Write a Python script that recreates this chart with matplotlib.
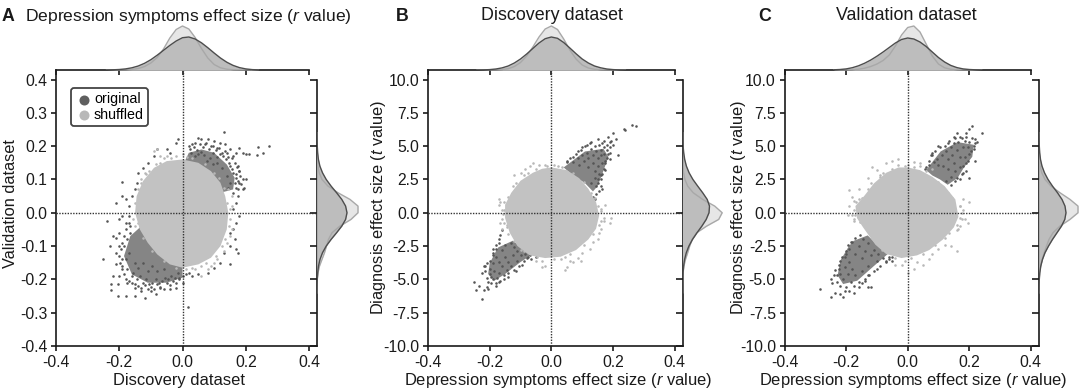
import matplotlib
matplotlib.use("Agg")
import matplotlib.pyplot as plt

plt.rcParams['font.family'] = ['Liberation Sans', 'DejaVu Sans']
plt.rcParams['mathtext.fontset'] = 'custom'
plt.rcParams['mathtext.it'] = 'Liberation Sans:italic'
plt.rcParams['mathtext.rm'] = 'Liberation Sans'
plt.rcParams['axes.unicode_minus'] = False

# -----------------------------
# Tick labels and text
# -----------------------------
r_ticks = [-0.4, -0.2, 0.0, 0.2, 0.4]
r_labels = ['-0.4', '-0.2', '0.0', '0.2', '0.4']
a_yticks = [-0.4, -0.3, -0.2, -0.1, 0.0, 0.1, 0.2, 0.3, 0.4]
a_ylabels = ['-0.4', '-0.3', '-0.2', '-0.1', '0.0', '0.1', '0.2', '0.3', '0.4']
t_ticks = [-10, -7.5, -5, -2.5, 0, 2.5, 5, 7.5, 10]
t_labels = ['-10.0', '-7.5', '-5.0', '-2.5', '0.0', '2.5', '5.0', '7.5', '10.0']

# -----------------------------
# Marginal curves
# -----------------------------
r_grid = [-0.24, -0.22, -0.20, -0.18, -0.16, -0.14, -0.12, -0.10, -0.08, -0.06, -0.04, -0.02, 0.0,
          0.02, 0.04, 0.06, 0.08, 0.10, 0.12, 0.14, 0.16, 0.18, 0.20, 0.22, 0.24]
t_grid = [-6, -5.5, -5, -4.5, -4, -3.5, -3, -2.5, -2, -1.5, -1, -0.5, 0,
          0.5, 1, 1.5, 2, 2.5, 3, 3.5, 4, 4.5, 5, 5.5, 6]

a_top_orig = [0, .2, .5, 1.1, 2.2, 4, 6.7, 10.3, 14.8, 19.7, 24.6, 29, 32.3, 33, 31, 27.2, 22.3, 17, 12, 7.8, 4.6, 2.4, 1.1, .4, .1]
a_top_shuf = [0, 0, 0, .1, .5, 1.5, 3.5, 7, 12.5, 21, 32, 40.5, 44, 41, 32.5, 21.5, 12, 5.5, 2.2, .8, .2, .1, 0, 0, 0]
a_right_orig = [0, .1, .3, .7, 1.5, 3, 5.5, 9.2, 14.1, 19.6, 24.8, 28.6, 30, 28.6, 24.8, 19.6, 14.1, 9.2, 5.5, 2.9, 1.4, .65, .27, .1, 0]
a_right_shuf = [0, 0, .2, 1, 2.5, 5, 7.5, 9.5, 11.5, 15, 23, 34, 41, 41, 33, 21, 11, 5, 2.2, .9, .3, .1, 0, 0, 0]

b_top_orig = [0, .1, .4, 1, 2.1, 4, 7, 11, 16, 21.5, 27, 31.3, 33, 31.7, 27.5, 22, 16.3, 11, 7, 4, 2.2, 1, .4, .1, 0]
b_top_shuf = [0, 0, 0, .1, .4, 1.3, 3.5, 7.5, 14, 23, 33, 41, 44, 40.5, 31, 20, 11, 5, 2, .7, .2, .1, 0, 0, 0]
b_right_orig = [0, .1, .2, .4, .9, 1.9, 3.6, 6.2, 9.8, 14.3, 19.2, 23.5, 26.3, 26.8, 24.5, 20, 15, 10.2, 6.4, 3.7, 2, 1, .4, .2, 0]
b_right_shuf = [0, 0, .1, .4, 1.2, 2.8, 5, 7, 9.5, 14, 24, 36, 39.5, 32, 20, 10.5, 5, 2.2, .9, .3, .1, 0, 0, 0, 0]

c_top_orig = [.2, .5, 1.1, 2.3, 4.2, 6.8, 10, 13.8, 18, 22.5, 27, 30.5, 32, 31, 28, 23.5, 18, 12.5, 8, 4.6, 2.4, 1.1, .5, .2, 0]
c_top_shuf = [0, 0, .1, .3, .8, 1.8, 3.5, 6, 9.5, 15, 24, 35, 42.5, 44, 38, 26, 14, 6, 2.2, .7, .2, 0, 0, 0, 0]
c_right_orig = [0, .1, .3, .8, 1.8, 3.5, 6, 9.5, 13.5, 18, 22.5, 25.8, 27, 26, 23, 18.5, 13.5, 9, 5.5, 3, 1.5, .7, .3, .1, 0]
c_right_shuf = [0, 0, .2, .5, 1.5, 3.2, 5.2, 7.5, 10, 14, 21, 31, 39, 39, 31, 21, 12, 6, 2.8, 1.1, .4, .1, 0, 0, 0]

# -----------------------------
# Outline of the dense shuffled cloud
# -----------------------------
a_cloud_x = [0.0, 0.05, 0.09, 0.12, 0.135, 0.145, 0.14, 0.12, 0.09, 0.05, 0.0, -0.04, -0.08, -0.11, -0.135, -0.15, -0.145, -0.125, -0.09, -0.05]
a_cloud_y = [0.16, 0.15, 0.125, 0.09, 0.05, 0.0, -0.05, -0.10, -0.135, -0.155, -0.165, -0.155, -0.125, -0.09, -0.05, 0.0, 0.05, 0.095, 0.135, 0.155]
b_cloud_x = [0, 0.05, 0.09, 0.12, 0.145, 0.155, 0.145, 0.12, 0.08, 0.03, -0.02, -0.07, -0.11, -0.135, -0.15, -0.15, -0.13, -0.10, -0.06, -0.03]
b_cloud_y = [3.4, 3.2, 2.6, 1.8, 0.8, -0.2, -1.2, -2.0, -2.8, -3.3, -3.4, -3.2, -2.5, -1.5, -0.4, 0.6, 1.5, 2.4, 3.0, 3.3]
c_cloud_x = [0.0, 0.04, 0.08, 0.12, 0.155, 0.165, 0.15, 0.115, 0.07, 0.03, -0.02, -0.07, -0.105, -0.145, -0.165, -0.17, -0.14, -0.11, -0.07, -0.03]
c_cloud_y = [3.4, 3.2, 2.7, 2.0, 1.0, -0.3, -1.1, -2.0, -2.8, -3.2, -3.4, -3.1, -2.4, -1.1, -0.4, 0.5, 1.3, 2.2, 3.0, 3.4]

# -----------------------------
# Outline of the dense original bands (inner side runs under the cloud)
# -----------------------------
a_band1_x = [0.02, 0.06, 0.10, 0.14, 0.165, 0.16, 0.12, 0.10, 0.07, 0.04, 0.005]
a_band1_y = [0.18, 0.19, 0.18, 0.145, 0.105, 0.07, 0.06, 0.09, 0.12, 0.14, 0.15]
a_band2_x = [-0.165, -0.185, -0.16, -0.11, -0.05, 0.0, 0.0, -0.04, -0.07, -0.10, -0.13]
a_band2_y = [-0.07, -0.13, -0.185, -0.21, -0.21, -0.195, -0.15, -0.14, -0.11, -0.08, -0.04]
b_band1_x = [0.04, 0.109, 0.169, 0.185, 0.165, 0.15, 0.135, 0.11, 0.085, 0.06]
b_band1_y = [3.4, 4.6, 4.8, 4.2, 2.9, 2.0, 1.6, 2.2, 2.6, 3.0]
b_band2_x = [-0.172, -0.125, -0.09, -0.06, -0.1, -0.15, -0.185, -0.205, -0.2, -0.18]
b_band2_y = [-2.6, -2.1, -2.7, -3.1, -3.7, -4.6, -5.1, -4.6, -3.8, -2.9]
c_band1_x = [0.06, 0.107, 0.162, 0.215, 0.21, 0.183, 0.162, 0.13, 0.105, 0.08]
c_band1_y = [3.2, 4.6, 5.3, 5.1, 4.2, 3.4, 2.6, 2.1, 2.5, 2.8]
c_band2_x = [-0.175, -0.13, -0.10, -0.065, -0.11, -0.164, -0.21, -0.228, -0.218, -0.191]
c_band2_y = [-2.1, -1.7, -2.4, -3.1, -4.0, -5.1, -5.35, -4.7, -3.55, -2.5]

# -----------------------------
# Single points around the clouds, (x, y)
# -----------------------------
a_orig = [(0.13, 0.242), (0.05, 0.225), (0.06, 0.22), (0.08, 0.22), (0.10, 0.215), (0.12, 0.21), (0.135, 0.205), (0.04, 0.21),
          (0.03, 0.205), (0.02, 0.20), (0.07, 0.205), (0.09, 0.20), (0.11, 0.195), (0.15, 0.19), (0.16, 0.17), (0.18, 0.195),
          (0.19, 0.18), (0.20, 0.175), (0.21, 0.175), (0.235, 0.173), (0.24, 0.196), (0.255, 0.178), (0.275, 0.20), (0.17, 0.18),
          (0.14, 0.18), (0.175, 0.14), (0.18, 0.125), (0.19, 0.10), (0.20, 0.10), (0.18, 0.09), (0.17, 0.075), (0.16, 0.06),
          (0.19, 0.07), (0.175, 0.05), (0.195, 0.075), (0.17, 0.03), (0.16, 0.01), (0.18, -0.01), (0.17, -0.03), (0.16, -0.05),
          (0.15, -0.06), (0.165, -0.08), (0.15, -0.10), (0.17, -0.11), (0.175, -0.12), (0.13, -0.12), (0.15, -0.155), (0.12, -0.15),
          (0.10, -0.165), (0.08, -0.18), (0.05, -0.185), (0.03, -0.19),
          (-0.015, 0.22), (-0.02, 0.21), (-0.05, 0.19), (-0.04, 0.18), (-0.08, 0.19), (-0.09, 0.17), (-0.11, 0.15), (-0.125, 0.135),
          (-0.14, 0.12), (-0.145, 0.09), (-0.15, 0.07), (-0.16, 0.05), (-0.19, 0.092), (-0.19, 0.05), (-0.18, 0.04), (-0.17, 0.02),
          (-0.21, 0.028), (-0.24, -0.024), (-0.20, -0.02), (-0.19, -0.01), (-0.18, -0.03), (-0.17, -0.01), (-0.165, -0.04), (-0.22, -0.07),
          (-0.21, -0.075), (-0.20, -0.06), (-0.23, -0.10), (-0.20, -0.10), (-0.21, -0.12), (-0.25, -0.14), (-0.21, -0.155), (-0.19, -0.14),
          (-0.22, -0.19), (-0.20, -0.19), (-0.225, -0.215), (-0.205, -0.215), (-0.225, -0.232), (-0.205, -0.25), (-0.178, -0.25), (-0.15, -0.25),
          (-0.12, -0.257), (-0.175, -0.21), (-0.15, -0.225), (-0.13, -0.235), (-0.10, -0.235), (-0.085, -0.245), (-0.07, -0.225), (-0.04, -0.23),
          (-0.02, -0.225), (0.0, -0.21), (-0.01, -0.2), (0.018, -0.284),
          (.025, .192), (.035, .198), (.045, .188), (.055, .205), (.065, .196), (.075, .208), (.085, .19), (.095, .2), (.105, .188), (.115, .195),
          (.125, .178), (.135, .185), (.145, .168), (.155, .165), (.165, .15), (.172, .138), (.178, .125), (.182, .11), (.176, .095), (.168, .115),
          (.158, .13), (.148, .15), (.138, .16), (.128, .17), (.118, .175), (.108, .168), (.098, .178), (.088, .165), (.078, .155), (.068, .172),
          (.058, .182), (.048, .175), (.038, .17), (.028, .18), (.15, .14), (.16, .12), (.17, .105), (.185, .085), (.175, .07), (.165, .09),
          (.125, .135), (.14, .11), (.11, .15), (.095, .145), (.15, .09), (.145, .075),
          (-.17, -.03), (-.18, -.05), (-.185, -.07), (-.19, -.09), (-.195, -.11), (-.2, -.13), (-.198, -.15), (-.192, -.17), (-.185, -.185), (-.178, -.2),
          (-.17, -.205), (-.16, -.21), (-.15, -.215), (-.14, -.22), (-.13, -.225), (-.12, -.218), (-.11, -.228), (-.1, -.222), (-.09, -.23), (-.08, -.215),
          (-.07, -.222), (-.06, -.228), (-.05, -.21), (-.04, -.218), (-.03, -.205), (-.02, -.212), (-.01, -.195), (.0, -.19), (.01, -.185), (.02, -.18),
          (-.185, -.1), (-.175, -.08), (-.165, -.06), (-.155, -.18), (-.145, -.2), (-.135, -.19), (-.125, -.21), (-.115, -.2), (-.105, -.215), (-.095, -.21),
          (-.085, -.2), (-.075, -.21), (-.065, -.205), (-.055, -.195), (-.045, -.2), (-.035, -.19), (-.025, -.195), (-.015, -.18), (-.17, -.12), (-.18, -.14),
          (-.19, -.16), (-.175, -.17), (-.16, -.19), (-.15, -.15), (-.14, -.165), (-.125, -.15), (-.11, -.175), (-.095, -.16), (-.08, -.175), (-.06, -.17)]
a_shuf = [(-0.08, 0.19), (-0.09, 0.185), (-0.07, 0.17), (-0.12, 0.12), (-0.13, 0.10), (-0.05, 0.17), (0.0, 0.175), (0.10, -0.15), (0.09, -0.16), (0.08, -0.17),
          (0.06, -0.19), (0.11, -0.14), (0.13, -0.115), (0.14, -0.09), (0.15, -0.07), (0.155, -0.05), (0.155, 0.02), (0.155, 0.05), (0.145, 0.07), (0.04, -0.17),
          (-.15, .03), (-.155, -.02), (-.15, -.04), (-.14, .07), (-.13, .09), (-.115, .115), (-.105, .125), (-.085, .145), (-.07, .15), (-.06, .165),
          (-.035, .165), (-.02, .17), (.015, .168), (.03, .165), (.07, .145), (.1, .12), (.115, .105), (.13, .075), (.14, .03), (.15, .01),
          (.15, -.02), (.148, -.04), (.135, -.08), (.125, -.1), (.105, -.13), (.075, -.15), (.06, -.16), (.03, -.165), (.01, -.17), (-.02, -.165),
          (-.06, -.145), (-.095, -.115), (-.125, -.075), (-.14, -.03)]

b_orig = [(0.275, 6.5), (0.26, 6.6), (0.24, 6.2), (0.235, 6.25), (0.20, 6.0), (0.185, 5.7), (0.21, 5.5), (0.215, 4.35), (0.195, 5.4), (0.20, 5.1),
          (0.19, 4.9), (0.17, 5.4), (0.15, 5.5), (0.13, 5.3), (0.115, 5.1), (0.10, 4.9), (0.085, 4.6), (0.07, 4.2), (0.05, 3.8), (0.19, 4.5),
          (0.18, 4.1), (0.175, 3.7), (0.17, 3.3), (0.165, 2.9), (0.16, 2.5), (0.15, 2.2), (0.165, 1.8), (0.155, 1.6), (0.145, 1.4), (0.135, 1.2), (0.16, 2.0), (0.14, 1.0),
          (-0.25, -5.2), (-0.245, -5.8), (-0.235, -5.5), (-0.225, -6.5), (-0.22, -5.8), (-0.21, -5.6), (-0.205, -5.7), (-0.195, -5.3), (-0.18, -5.5), (-0.17, -5.2),
          (-0.155, -5.0), (-0.14, -4.8), (-0.225, -4.5), (-0.215, -4.0), (-0.21, -3.8), (-0.20, -4.6), (-0.19, -3.2), (-0.19, -2.7), (-0.18, -2.4), (-0.17, -2.0),
          (-0.165, -1.7), (-0.16, -1.3), (-0.08, -3.4), (-0.065, -3.5), (-0.095, -3.9), (-0.115, -4.4), (-0.05, -3.3),
          (.05, 3.9), (.06, 4.1), (.07, 3.8), (.08, 4.4), (.085, 4.1), (.09, 3.6), (.095, 4.7), (.1, 4.3), (.105, 3.9), (.11, 5.0),
          (.115, 4.5), (.12, 4.1), (.12, 3.4), (.125, 5.2), (.13, 4.8), (.135, 4.3), (.135, 3.7), (.14, 3.1), (.14, 5.0), (.145, 4.6),
          (.15, 4.1), (.15, 3.5), (.155, 5.1), (.155, 2.9), (.16, 4.7), (.16, 4.3), (.165, 3.7), (.165, 5.2), (.17, 4.9), (.17, 4.4),
          (.175, 3.9), (.175, 3.2), (.18, 4.7), (.18, 5.1), (.185, 4.4), (.19, 4.0), (.19, 5.3), (.16, 2.8), (.15, 2.5), (.145, 2.0), (.14, 2.6), (.13, 2.2),
          (-.22, -4.0), (-.215, -4.4), (-.21, -4.9), (-.205, -5.2), (-.2, -3.6), (-.2, -4.2), (-.195, -4.8), (-.19, -3.0), (-.19, -3.8), (-.19, -5.0),
          (-.185, -4.4), (-.18, -2.7), (-.18, -3.3), (-.18, -5.3), (-.175, -4.9), (-.17, -2.3), (-.17, -3.7), (-.17, -4.5), (-.165, -5.1), (-.16, -2.8),
          (-.16, -4.0), (-.155, -4.7), (-.15, -3.3), (-.15, -2.4), (-.145, -4.3), (-.14, -3.7), (-.14, -4.5), (-.13, -2.3), (-.13, -4.0), (-.125, -3.2),
          (-.12, -4.3), (-.12, -2.6), (-.11, -3.6), (-.11, -2.9), (-.105, -4.0), (-.1, -3.2), (-.09, -3.6), (-.085, -3.1), (-.075, -3.3), (-.07, -3.2)]
b_shuf = [(-0.17, 1.0), (-0.165, 0.8), (-0.17, 0.6), (-0.155, 0.8), (-0.16, 0.2), (-0.16, -0.5), (-0.165, -0.8), (-0.16, -1.2), (-0.12, 2.8), (-0.10, 3.0),
          (-0.085, 3.3), (-0.07, 3.5), (-0.06, 3.7), (-0.04, 3.6), (-0.02, 3.6), (0.01, 3.6), (0.17, -0.4), (0.195, -0.4), (0.17, -0.6), (0.19, -0.8),
          (0.16, -1.2), (0.155, -1.5), (0.15, -2.0), (0.135, -2.2), (0.125, -2.7), (0.10, -3.0), (0.095, -3.6), (0.085, -3.4), (0.07, -3.7), (0.06, -3.6),
          (0.05, -4.1), (0.045, -4.3), (0.03, -3.5), (-0.03, -3.6), (-0.03, -4.1), (-0.02, -4.0), (-0.05, -3.6), (0.175, 0.6), (0.16, 0.3),
          (-.155, .2), (-.158, -.1), (-.155, -.8), (-.145, -1.1), (-.14, 1.2), (-.125, 2.0), (-.115, 2.2), (-.09, 2.8), (-.075, 3.0), (-.05, 3.3),
          (-.015, 3.5), (.02, 3.5), (.035, 3.4), (.07, 3.0), (.105, 2.3), (.13, 1.5), (.14, 1.1), (.15, .5), (.16, .1), (.16, -.6),
          (.155, -.9), (.135, -1.6), (.105, -2.4), (.06, -3.1), (.045, -3.3), (.01, -3.45), (-.045, -3.35), (-.09, -2.9), (-.12, -2.1), (-.145, -.9),
          (-.14, -1.6), (-.1, -2.8)]

c_orig = [(0.24, 6.0), (0.21, 6.5), (0.20, 6.3), (0.19, 6.0), (0.16, 6.0), (0.17, 5.7), (0.15, 5.7), (0.13, 5.2), (0.22, 5.5), (0.22, 5.2),
          (0.215, 4.8), (0.22, 3.9), (0.20, 4.4), (0.195, 3.9), (0.18, 3.5), (0.20, 2.6), (0.17, 2.5), (0.155, 2.4), (0.14, 2.1), (0.125, 2.4),
          (0.10, 5.0), (0.08, 4.5), (0.075, 4.3), (0.07, 3.9), (0.06, 3.4), (0.055, 3.3),
          (-0.285, -5.7), (-0.25, -6.35), (-0.25, -5.0), (-0.245, -5.3), (-0.235, -6.0), (-0.22, -6.1), (-0.21, -6.3), (-0.205, -5.9), (-0.19, -5.9), (-0.175, -6.0),
          (-0.16, -5.6), (-0.13, -5.6), (-0.12, -5.55), (-0.15, -5.3), (-0.14, -5.0), (-0.23, -4.7), (-0.225, -4.2), (-0.22, -3.6), (-0.205, -3.3), (-0.20, -2.9),
          (-0.195, -2.4), (-0.185, -2.2), (-0.13, -4.7), (-0.10, -4.2), (-0.07, -3.7), (-0.05, -3.6), (-0.06, -3.3),
          (.07, 3.6), (.08, 4.3), (.085, 3.8), (.09, 4.6), (.095, 4.0), (.1, 3.6), (.105, 4.9), (.11, 4.3), (.115, 3.5), (.12, 5.0),
          (.125, 4.6), (.13, 4.0), (.13, 3.3), (.135, 5.4), (.14, 4.9), (.14, 2.7), (.145, 4.3), (.15, 5.2), (.15, 3.7), (.155, 5.6),
          (.155, 3.1), (.16, 4.7), (.16, 2.6), (.165, 5.3), (.17, 4.2), (.17, 3.4), (.175, 5.6), (.175, 2.9), (.18, 4.9), (.185, 5.4),
          (.185, 4.2), (.19, 3.7), (.19, 5.7), (.195, 4.9), (.2, 5.3), (.205, 4.6), (.21, 5.6), (.215, 5.0), (.225, 5.3), (.19, 3.1), (.18, 3.0),
          (-.24, -4.7), (-.235, -4.3), (-.23, -5.2), (-.225, -3.9), (-.22, -4.6), (-.22, -5.5), (-.215, -3.3), (-.21, -5.0), (-.205, -4.1), (-.2, -3.1),
          (-.2, -5.6), (-.195, -4.6), (-.19, -2.7), (-.19, -3.7), (-.185, -5.2), (-.18, -2.2), (-.18, -4.2), (-.175, -5.5), (-.17, -1.9), (-.17, -3.1),
          (-.17, -4.7), (-.16, -2.5), (-.16, -5.2), (-.155, -1.7), (-.15, -3.4), (-.15, -4.4), (-.145, -2.0), (-.14, -5.1), (-.14, -2.9), (-.13, -4.0),
          (-.13, -2.3), (-.125, -4.7), (-.12, -3.2), (-.11, -2.8), (-.11, -4.4), (-.1, -3.6), (-.095, -3.1), (-.09, -4.0), (-.08, -3.4), (-.07, -3.6), (-.06, -3.5), (-.05, -3.3)]
c_shuf = [(-0.19, 1.7), (-0.18, 1.2), (-0.175, 0.9), (-0.19, 0.5), (-0.195, -0.2), (-0.175, -0.5), (-0.18, -0.2), (-0.16, 1.8), (-0.13, 2.6), (-0.115, 3.4),
          (-0.10, 3.2), (-0.09, 2.8), (-0.07, 3.7), (-0.05, 3.9), (-0.03, 4.0), (-0.03, 3.6), (0.0, 3.6), (0.02, 3.8), (0.04, 3.7), (0.08, 3.3),
          (0.04, 3.5), (0.18, 1.0), (0.20, 0.8), (0.17, 0.5), (0.18, 0.2), (0.185, -0.5), (0.175, -0.5), (0.195, -0.8), (0.17, -1.0), (0.165, -1.2),
          (0.16, -1.3), (0.16, -2.9), (0.14, -2.5), (0.12, -2.4), (0.10, -2.7), (0.08, -3.1), (0.07, -3.5), (0.05, -3.9), (0.03, -3.7), (0.02, -4.2),
          (0.0, -4.5), (-0.02, -3.9), (-0.01, -3.6), (-0.04, -3.9),
          (-.175, .2), (-.172, -.2), (-.168, .8), (-.15, 1.1), (-.13, 1.8), (-.12, 2.2), (-.09, 2.7), (-.08, 3.0), (-.05, 3.3), (-.01, 3.5),
          (.02, 3.4), (.06, 3.1), (.1, 2.3), (.13, 1.5), (.145, 1.1), (.17, .5), (.175, .0), (.17, -.4), (.16, -.9), (.135, -1.5),
          (.12, -1.9), (.09, -2.4), (.05, -3.1), (.01, -3.4), (-.04, -3.4), (-.085, -2.8), (-.115, -1.9), (-.14, -1.0), (-.155, -.7), (-.175, -.6), (-.16, 1.0)]

# -----------------------------
# Figure (layout in reference pixels)
# -----------------------------
W, H = 1084, 391
DARK = '#555555'
LIGHT = '#b8b8b8'
INK = '#1a1a1a'

fig = plt.figure(figsize=(W / 100, H / 100), dpi=100)


def rect(left, top, right, bottom):
    return [left / W, 1 - bottom / H, (right - left) / W, (bottom - top) / H]


def panel(left, tick_right, spine_right, yticks, ylabels, ymax, cloud, bands, orig, shuf,
          top_curves, right_curves, grid, xlabel, ylabel, xlab_x, ylab_x, ylab_y):
    top, y_tick_top, bottom = 70, 79.5, 346
    xhi = 0.4 + (spine_right - tick_right) / (tick_right - left) * 0.8
    yhi = ymax + (y_tick_top - top) / (bottom - y_tick_top) * 2 * ymax

    ax = fig.add_axes(rect(left, top, spine_right, bottom))
    ax.set_xlim(-0.4, xhi)
    ax.set_ylim(-ymax, yhi)

    # points and dense areas
    ax.fill(bands[0], bands[1], color='#858585', lw=0, zorder=1)
    ax.fill(bands[2], bands[3], color='#858585', lw=0, zorder=1)
    ax.scatter(*zip(*orig), s=3.4, color=DARK, lw=0, zorder=2)
    ax.scatter(*zip(*shuf), s=3.4, color=LIGHT, lw=0, zorder=3)
    ax.fill(cloud[0], cloud[1], color='#c2c2c2', lw=0, zorder=3)

    # crosshair
    ax.axhline(0, color='#333333', lw=1, ls=(0, (1, 1)), zorder=4)
    ax.axvline(0, color='#333333', lw=1, ls=(0, (1, 1)), zorder=4)

    ax.set_xticks(r_ticks)
    ax.set_xticklabels(r_labels)
    ax.set_yticks(yticks)
    ax.set_yticklabels(ylabels)
    ax.tick_params(length=3.8, width=1.2, color=INK, labelsize=11.3, pad=2.5, labelcolor=INK)
    ax.spines['left'].set_linewidth(1.2)
    ax.spines['bottom'].set_linewidth(1.2)
    ax.spines['left'].set_color(INK)
    ax.spines['bottom'].set_color(INK)
    ax.spines['top'].set_visible(False)
    ax.spines['right'].set_visible(False)
    ax.patch.set_alpha(0)

    sec_x = ax.secondary_xaxis('top')
    sec_x.set_xticks(r_ticks)
    sec_x.set_xticklabels([])
    sec_x.tick_params(direction='in', length=3.6, width=1.2, color=INK)
    sec_x.spines['top'].set_bounds(-0.4, 0.4)
    sec_x.spines['top'].set_linewidth(1.2)
    sec_x.spines['top'].set_color(INK)

    sec_y = ax.secondary_yaxis('right')
    sec_y.set_yticks(yticks)
    sec_y.set_yticklabels([])
    sec_y.tick_params(direction='in', length=5, width=1.2, color=INK)
    sec_y.spines['right'].set_bounds(-ymax, ymax)
    sec_y.spines['right'].set_linewidth(1.2)
    sec_y.spines['right'].set_color(INK)

    fig.text(xlab_x / W, 1 - 380 / H, xlabel, fontsize=11.9, color=INK, ha='center', va='center')
    fig.text(ylab_x / W, 1 - ylab_y / H, ylabel, fontsize=11.8, color=INK, ha='center', va='center', rotation=90)

    # marginal on top
    ax_top = fig.add_axes(rect(left, 24, spine_right, top))
    ax_top.set_xlim(-0.4, xhi)
    ax_top.set_ylim(0, 46)
    ax_top.fill_between(r_grid, top_curves[1], color='#e6e6e6', lw=0)
    ax_top.fill_between(r_grid, top_curves[0], color='#bdbdbd', lw=0)
    ax_top.plot(r_grid, top_curves[1], color='#a8a8a8', lw=1)
    ax_top.plot(r_grid, top_curves[0], color='#4d4d4d', lw=1)
    ax_top.axis('off')

    # marginal on the right
    ax_right = fig.add_axes(rect(spine_right, top, spine_right + 46, bottom))
    ax_right.set_xlim(0, 46)
    ax_right.set_ylim(-ymax, yhi)
    ax_right.fill_betweenx(grid, right_curves[1], color='#e6e6e6', lw=0)
    ax_right.fill_betweenx(grid, right_curves[0], color='#bdbdbd', lw=0)
    ax_right.plot(right_curves[1], grid, color='#a8a8a8', lw=1)
    ax_right.plot(right_curves[0], grid, color='#4d4d4d', lw=1)
    ax_right.axis('off')
    return ax


xlab_bc = 'Depression symptoms effect size ($\\mathit{r}$ value)'
ylab_bc = 'Diagnosis effect size ($\\mathit{t}$ value)'

ax_a = panel(56, 309, 317, a_yticks, a_ylabels, 0.4, (a_cloud_x, a_cloud_y),
             (a_band1_x, a_band1_y, a_band2_x, a_band2_y), a_orig, a_shuf,
             (a_top_orig, a_top_shuf), (a_right_orig, a_right_shuf), r_grid,
             'Discovery dataset', 'Validation dataset', 179, 11, 204)
panel(428, 674.7, 682.7, t_ticks, t_labels, 10, (b_cloud_x, b_cloud_y),
      (b_band1_x, b_band1_y, b_band2_x, b_band2_y), b_orig, b_shuf,
      (b_top_orig, b_top_shuf), (b_right_orig, b_right_shuf), t_grid,
      xlab_bc, ylab_bc, 558, 379, 208)
panel(784.7, 1030.7, 1039, t_ticks, t_labels, 10, (c_cloud_x, c_cloud_y),
      (c_band1_x, c_band1_y, c_band2_x, c_band2_y), c_orig, c_shuf,
      (c_top_orig, c_top_shuf), (c_right_orig, c_right_shuf), t_grid,
      xlab_bc, ylab_bc, 913, 739, 208)

# legend
h1 = ax_a.scatter([], [], s=52, color='#5f5f5f', lw=0, label='original')
h2 = ax_a.scatter([], [], s=52, color=LIGHT, lw=0, label='shuffled')
leg = ax_a.legend(handles=[h1, h2], loc='upper left', bbox_to_anchor=(15 / 261, 1 - 18 / 276), borderaxespad=0,
                  fontsize=10.3, labelspacing=0.12, handletextpad=0.05, borderpad=0.3, handlelength=1.25, fancybox=True)
leg.get_frame().set_edgecolor('#444444')
leg.get_frame().set_linewidth(1.3)
leg.get_frame().set_alpha(1)
leg.set_zorder(6)

# panel letters and titles
fig.text(2 / W, 1 - 21 / H, 'A', fontsize=12.8, fontweight='bold', color=INK)
fig.text(188 / W, 1 - 16 / H, 'Depression symptoms effect size ($\\mathit{r}$ value)', fontsize=12.6, color=INK, ha='center', va='center')
fig.text(396 / W, 1 - 21 / H, 'B', fontsize=12.8, fontweight='bold', color=INK)
fig.text(552 / W, 1 - 16 / H, 'Discovery dataset', fontsize=12.9, color=INK, ha='center', va='center')
fig.text(758 / W, 1 - 21 / H, 'C', fontsize=12.8, fontweight='bold', color=INK)
fig.text(906 / W, 1 - 16 / H, 'Validation dataset', fontsize=12.9, color=INK, ha='center', va='center')

fig.savefig('out.png', dpi=100)
